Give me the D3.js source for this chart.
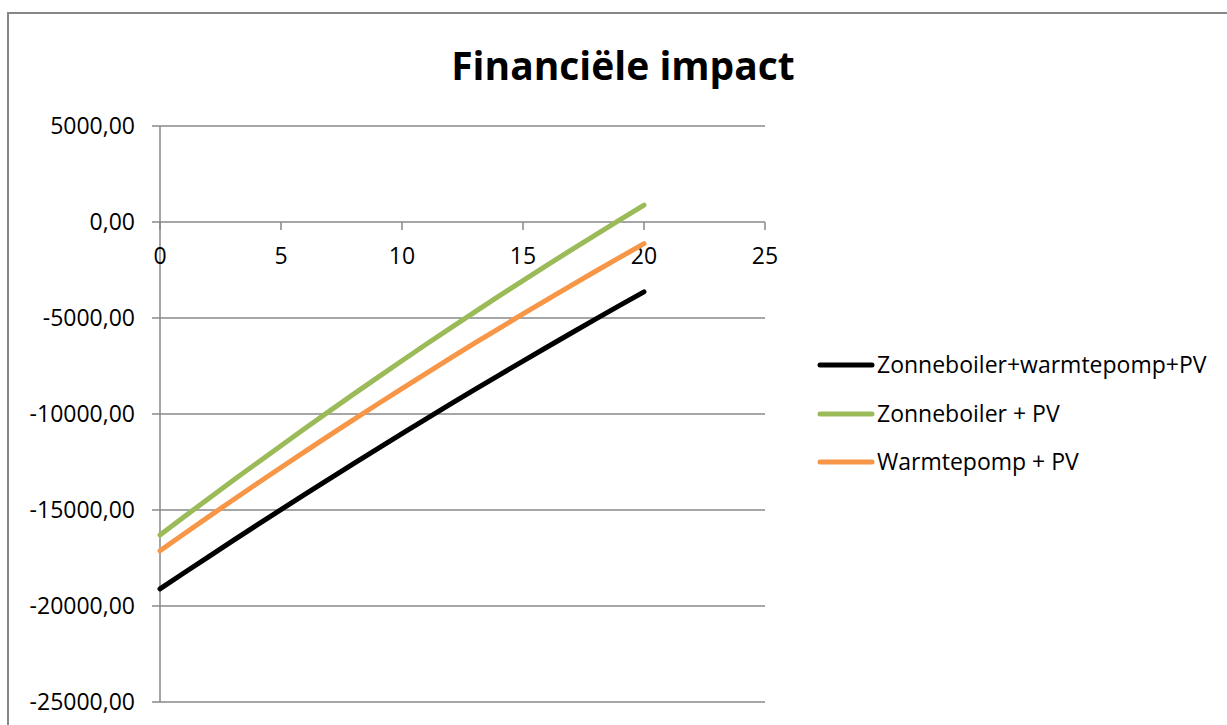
<!DOCTYPE html>
<html>
<head>
<meta charset="utf-8">
<script src="https://cdn.jsdelivr.net/npm/d3@7"></script>
<style>
  html, body { margin: 0; padding: 0; background: #fff; }
  svg { display: block; font-family: "Open Sans", sans-serif; }
</style>
</head>
<body>
<svg id="chart" width="1227" height="725"></svg>
<script>
// Years since investment
const years = d3.range(0, 21);

// Cumulative financial result per scenario (EUR)
const zonneboilerWarmtepompPV = [
  -19110, -18270, -17440, -16610, -15790, -14980, -14175, -13380, -12585, -11800,
  -11025, -10255, -9490, -8735, -7985, -7245, -6510, -5780, -5060, -4345, -3640
];
const zonneboilerPV = [
  -16300, -15350, -14410, -13480, -12560, -11650, -10745, -9850, -8965, -8090,
  -7225, -6370, -5525, -4690, -3865, -3050, -2245, -1450, -665, 110, 880
];
const warmtepompPV = [
  -17120, -16235, -15360, -14490, -13635, -12785, -11945, -11115, -10290, -9480,
  -8675, -7880, -7095, -6315, -5550, -4790, -4040, -3300, -2565, -1845, -1130
];

const seriesNames = ["Zonneboiler+warmtepomp+PV", "Zonneboiler + PV", "Warmtepomp + PV"];
const seriesValues = [zonneboilerWarmtepompPV, zonneboilerPV, warmtepompPV];
const seriesColors = ["#000000", "#9BBB59", "#F79646"];

const xTicks = [0, 5, 10, 15, 20, 25];
const yTicks = [5000, 0, -5000, -10000, -15000, -20000, -25000];
const title = "Financiële impact";

const svg = d3.select("#chart");
const gridColor = "#898989";

// Outer chart frame
svg.append("path")
  .attr("d", "M8,730 V13 H1230")
  .attr("fill", "none")
  .attr("stroke", "#878787")
  .attr("stroke-width", 2);

const x = d3.scaleLinear().domain([0, 25]).range([160, 765]);
const y = d3.scaleLinear().domain([-25000, 5000]).range([702, 126]);

const fmt = v => d3.format(".2f")(v).replace(".", ",").replace("−", "-");

// Horizontal gridlines with outward tick stubs
svg.append("g").selectAll("line")
  .data(yTicks)
  .join("line")
  .attr("x1", x(0) - 8).attr("x2", x(25))
  .attr("y1", d => y(d)).attr("y2", d => y(d))
  .attr("stroke", gridColor).attr("stroke-width", 1.5);

// Value axis line
svg.append("line")
  .attr("x1", x(0)).attr("x2", x(0))
  .attr("y1", y(5000)).attr("y2", y(-25000))
  .attr("stroke", gridColor).attr("stroke-width", 1.5);

// Value axis labels
svg.append("g").selectAll("text")
  .data(yTicks)
  .join("text")
  .attr("x", 135)
  .attr("y", d => y(d) + 8)
  .attr("text-anchor", "end")
  .attr("font-size", 23)
  .attr("fill", "#000")
  .text(d => fmt(d));

// Horizontal axis through zero
const xAxis = svg.append("g").attr("transform", `translate(0,${y(0)})`);
xAxis.selectAll("line")
  .data(xTicks)
  .join("line")
  .attr("x1", d => x(d)).attr("x2", d => x(d))
  .attr("y1", 0).attr("y2", 8)
  .attr("stroke", gridColor).attr("stroke-width", 1.5);
xAxis.selectAll("text")
  .data(xTicks)
  .join("text")
  .attr("x", d => x(d))
  .attr("y", 42)
  .attr("text-anchor", "middle")
  .attr("font-size", 23)
  .attr("fill", "#000")
  .text(d => d);

// Scenario lines
const line = d3.line()
  .x((d, i) => x(years[i]))
  .y(d => y(d));

svg.append("g").selectAll("path")
  .data(seriesValues)
  .join("path")
  .attr("d", d => line(d))
  .attr("fill", "none")
  .attr("stroke", (d, i) => seriesColors[i])
  .attr("stroke-width", 5)
  .attr("stroke-linejoin", "round")
  .attr("stroke-linecap", "round");

// Legend
const legend = svg.append("g");
const legendY = [365, 414, 462];
seriesNames.forEach((name, i) => {
  legend.append("line")
    .attr("x1", 820).attr("x2", 872)
    .attr("y1", legendY[i]).attr("y2", legendY[i])
    .attr("stroke", seriesColors[i])
    .attr("stroke-width", 5)
    .attr("stroke-linecap", "round");
  legend.append("text")
    .attr("x", 877)
    .attr("y", legendY[i] + 8)
    .attr("font-size", 23)
    .attr("fill", "#000")
    .text(name);
});

// Title
svg.append("text")
  .attr("x", 623)
  .attr("y", 80)
  .attr("text-anchor", "middle")
  .attr("font-size", 39)
  .attr("font-weight", "bold")
  .attr("fill", "#000")
  .text(title);
</script>
</body>
</html>
